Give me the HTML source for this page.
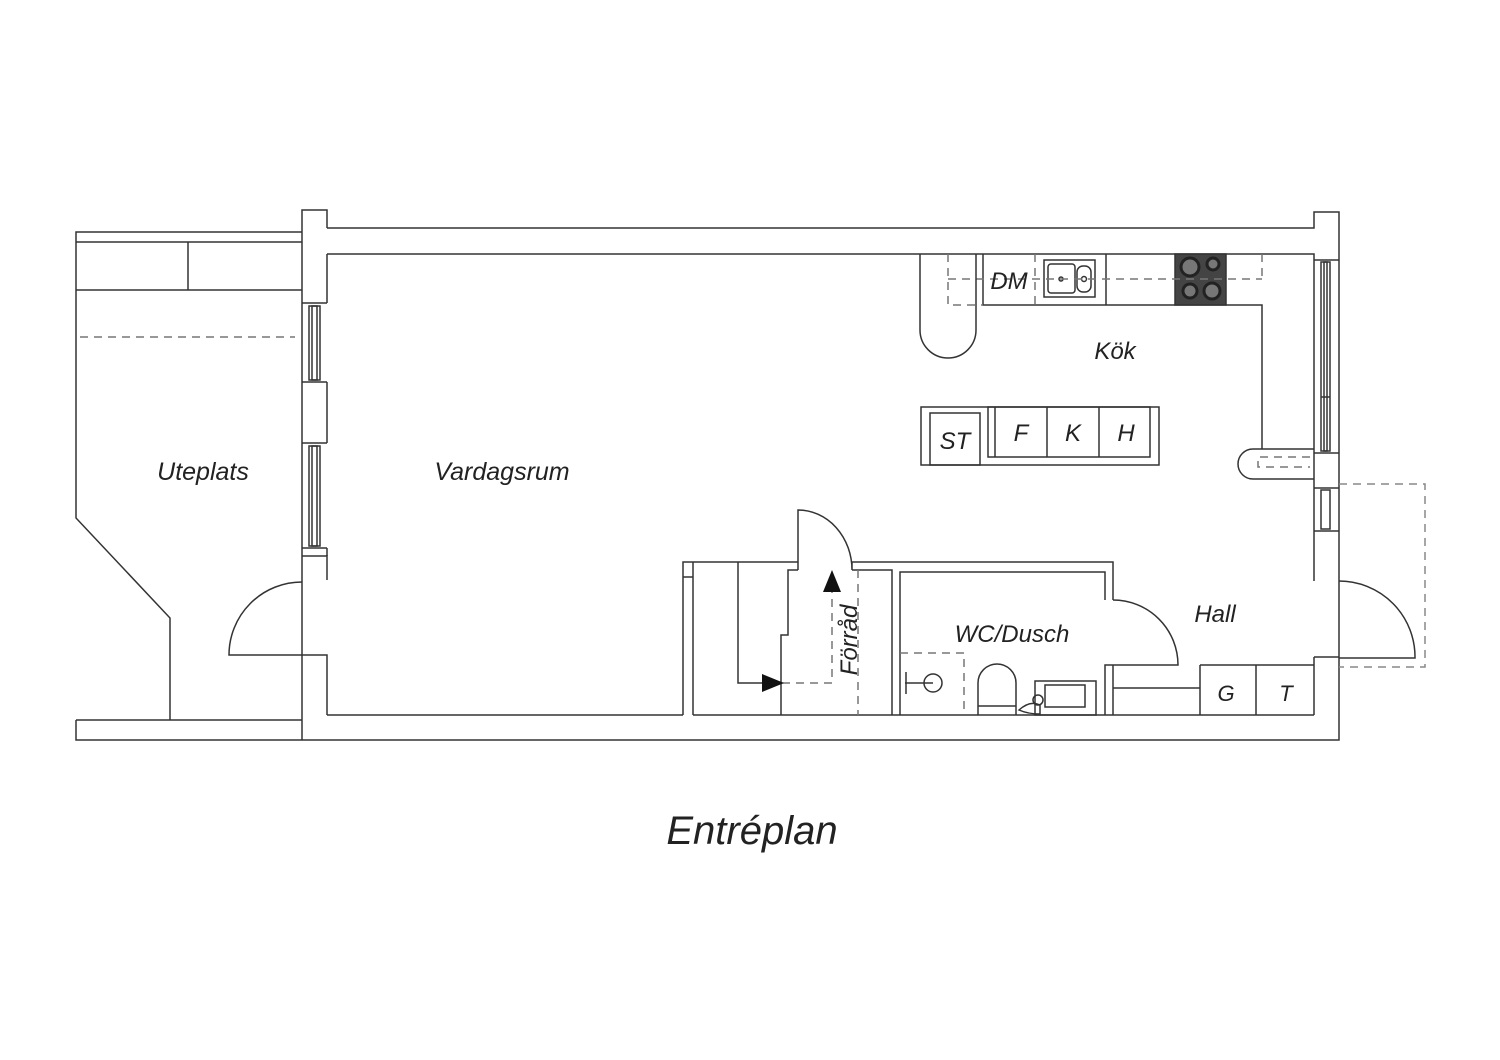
<!DOCTYPE html>
<html><head><meta charset="utf-8"><style>
html,body{margin:0;padding:0;background:#fff;}
svg{display:block}
text{font-family:"Liberation Sans",sans-serif;font-style:italic;fill:#222;}
</style></head><body>
<svg width="1500" height="1060" viewBox="0 0 1500 1060" xmlns="http://www.w3.org/2000/svg">
<g fill="none" stroke="#333" stroke-width="1.5">
<!-- Uteplats -->
<path d="M302 232 H76 V518 L170 618 V720"/>
<path d="M76 242 H302 M76 290 H302 M188 242 V290"/>
<path d="M76 720 H302 M76 720 V740 H302"/>
<path d="M80 337 H295" stroke-dasharray="8 6" stroke="#777"/>
<!-- left wall -->
<path d="M302 740 V210 H327 V228"/>
<path d="M327 254 V303 M327 580 V555"/>
<path d="M302 303 H327 M302 382 H327 M302 443 H327 M302 548 H327 M302 556 H327 M327 382 V443"/>
<rect x="309" y="306" width="11" height="74"/><rect x="312" y="306" width="5" height="74"/>
<rect x="309" y="446" width="11" height="100"/><rect x="312" y="446" width="5" height="100"/>
<path d="M327 548 V556"/>
<!-- left door -->
<path d="M302 582 A73 73 0 0 0 229 655 H327 V715"/>
<!-- top walls -->
<path d="M327 228 H1314 V212 H1339 V740 H302"/>
<path d="M327 254 H1314 V581"/>
<!-- right windows -->
<path d="M1314 260 H1339 M1314 453 H1339 M1314 488 H1339 M1314 531 H1339"/>
<rect x="1321" y="262" width="9" height="189"/><rect x="1324" y="262" width="3" height="189"/>
<path d="M1321 397 H1330"/>
<rect x="1321" y="490" width="9" height="39"/>
<!-- right door -->
<path d="M1339 581 A76 76 0 0 1 1415 658 H1339 M1314 657 H1339"/>
<path d="M1339 484 H1425 V667 H1339" stroke-dasharray="8 6" stroke="#888"/>
<path d="M1314 657 V715"/>
<!-- bottom inner -->
<path d="M327 715 H683 M693 715 H1314"/>
<!-- kitchen counter -->
<path d="M983 254 V305 H1262 V449"/>
<path d="M1106 254 V305"/>
<rect x="1175" y="254" width="51" height="51" fill="#444"/>
<circle cx="1190" cy="267" r="9" fill="#777" stroke="#222" stroke-width="3"/>
<circle cx="1213" cy="264" r="6" fill="#777" stroke="#222" stroke-width="3"/>
<circle cx="1190" cy="291" r="7" fill="#777" stroke="#222" stroke-width="3"/>
<circle cx="1212" cy="291" r="8" fill="#777" stroke="#222" stroke-width="3"/>
<rect x="1044" y="260" width="51" height="37"/>
<rect x="1048" y="264" width="27" height="29" rx="3"/>
<rect x="1077" y="266" width="14" height="26" rx="6"/>
<circle cx="1061" cy="279" r="2"/><circle cx="1084" cy="279" r="2.5"/>
<path d="M948 254 V305 H983 M948 279 H1262 M1035 254 V305 M1262 254 V279" stroke-dasharray="8 6" stroke="#777"/>
<path d="M920 254 V330 A28 28 0 0 0 976 330 V254"/>
<!-- island -->
<rect x="921" y="407" width="238" height="58"/>
<rect x="930" y="413" width="50" height="52"/>
<rect x="988" y="407" width="162" height="50"/>
<path d="M995 407 V457 M1047 407 V457 M1099 407 V457"/>
<!-- small bar right -->
<path d="M1314 449 H1253 A15 15 0 0 0 1253 479 H1314"/>
<path d="M1310 457 H1258 V467 H1310" stroke-dasharray="8 6" stroke="#777"/>
<!-- stairs / storage -->
<path d="M683 715 V562 H798 M693 562 V715 M683 577 H693"/>
<path d="M738 562 V683 H781"/>
<path d="M781 715 V635 H788 V570 H798"/>
<path d="M798 570 V510 A54 60 0 0 1 852 570 V562 H1113 V600"/>
<path d="M852 570 H892 V715 M900 715 V572 H1105 V600"/>
<path d="M858 570 V715 M832 585 V683 H781" stroke-dasharray="8 6" stroke="#777"/>
<polygon points="832,570 823,592 841,592" fill="#111" stroke="none"/>
<polygon points="784,683 762,674 762,692" fill="#111" stroke="none"/>
<!-- WC door -->
<path d="M1113 600 A65 65 0 0 1 1178 665 H1105 V715 M1113 665 V715"/>
<path d="M1113 688 H1200 M1200 665 H1314 M1200 665 V715 M1256 665 V715"/>
<!-- WC fixtures -->
<path d="M900 653 H964 V715" stroke-dasharray="8 6" stroke="#777"/>
<circle cx="933" cy="683" r="9"/>
<path d="M905 683 H933 M906 672 V694"/>
<path d="M978 715 V683 A19 19 0 0 1 1016 683 V715 M978 706 H1016"/>
<rect x="1035" y="681" width="61" height="34"/>
<rect x="1045" y="685" width="40" height="22"/>
<path d="M1019 710 Q1030 700 1040 705 L1040 714 Q1028 714 1019 710 Z"/>
<circle cx="1038" cy="700" r="5"/>
</g>
<text x="203" y="480" font-size="25" text-anchor="middle">Uteplats</text>
<text x="502" y="480" font-size="25" text-anchor="middle">Vardagsrum</text>
<text x="1115" y="359" font-size="24" text-anchor="middle">Kök</text>
<text x="1009" y="289" font-size="24" text-anchor="middle">DM</text>
<text x="955" y="449" font-size="24" text-anchor="middle">ST</text>
<text x="1021" y="441" font-size="24" text-anchor="middle">F</text>
<text x="1073" y="441" font-size="24" text-anchor="middle">K</text>
<text x="1126" y="441" font-size="24" text-anchor="middle">H</text>
<text x="1215" y="622" font-size="24" text-anchor="middle">Hall</text>
<text x="1012" y="642" font-size="24" text-anchor="middle">WC/Dusch</text>
<text x="1226" y="701" font-size="22" text-anchor="middle">G</text>
<text x="1286" y="701" font-size="22" text-anchor="middle">T</text>
<text x="0" y="0" font-size="24" text-anchor="middle" transform="translate(857 640) rotate(-90)">Förråd</text>
<text x="752" y="844" font-size="40" text-anchor="middle">Entréplan</text>
</svg>
</body></html>
